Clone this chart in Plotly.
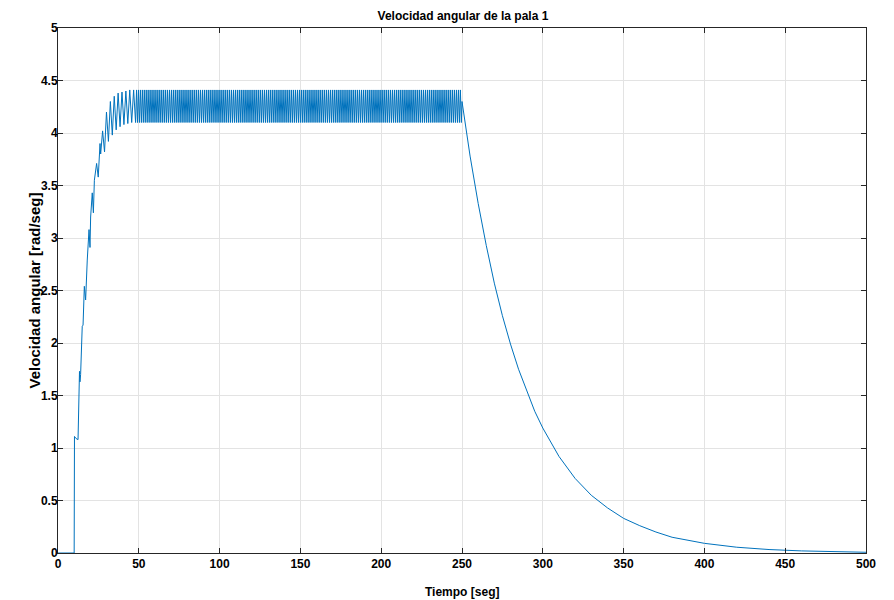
import plotly.graph_objects as go

# ---- data ----
# start-up ramp (seconds, rad/seg)
ramp_t = [0, 10.0, 10.2, 10.6, 11.2, 12.4, 13.0, 13.3, 13.6, 14.0, 15.0, 15.5, 16.3, 17.1,
          18.1, 18.8, 19.2, 19.8, 20.2, 21.2, 21.9, 22.5, 23.9, 24.9, 26.0]
ramp_v = [0, 0, 1.11, 1.10, 1.09, 1.08, 1.65, 1.73, 1.63, 1.70, 2.16, 2.17, 2.54, 2.41,
          2.79, 3.00, 3.08, 2.91, 3.20, 3.43, 3.24, 3.55, 3.71, 3.58, 3.90]

# oscillation building up (turning points)
build_t = [26.4, 27.6, 28.8, 30.0, 31.2, 32.4, 33.6, 34.8, 36.0, 37.2,
           38.4, 39.6, 40.8, 42.0, 43.2, 44.4, 45.6, 46.8, 48.0]
build_v = [3.80, 4.02, 3.82, 4.20, 3.92, 4.30, 3.98, 4.35, 4.03, 4.38,
           4.06, 4.39, 4.08, 4.40, 4.09, 4.41, 4.10, 4.41, 4.10]

# steady oscillation (turning points)
steady_t = [
    48.6, 49.2, 49.8, 50.4, 51.0, 51.6, 52.2, 52.8, 53.4, 54.0,
    54.6, 55.2, 55.8, 56.4, 57.0, 57.6, 58.2, 58.8, 59.4, 60.0,
    60.6, 61.2, 61.8, 62.4, 63.0, 63.6, 64.2, 64.8, 65.4, 66.0,
    66.6, 67.2, 67.8, 68.4, 69.0, 69.6, 70.2, 70.8, 71.4, 72.0,
    72.6, 73.2, 73.8, 74.4, 75.0, 75.6, 76.2, 76.8, 77.4, 78.0,
    78.6, 79.2, 79.8, 80.4, 81.0, 81.6, 82.2, 82.8, 83.4, 84.0,
    84.6, 85.2, 85.8, 86.4, 87.0, 87.6, 88.2, 88.8, 89.4, 90.0,
    90.6, 91.2, 91.8, 92.4, 93.0, 93.6, 94.2, 94.8, 95.4, 96.0,
    96.6, 97.2, 97.8, 98.4, 99.0, 99.6, 100.2, 100.8, 101.4, 102.0,
    102.6, 103.2, 103.8, 104.4, 105.0, 105.6, 106.2, 106.8, 107.4, 108.0,
    108.6, 109.2, 109.8, 110.4, 111.0, 111.6, 112.2, 112.8, 113.4, 114.0,
    114.6, 115.2, 115.8, 116.4, 117.0, 117.6, 118.2, 118.8, 119.4, 120.0,
    120.6, 121.2, 121.8, 122.4, 123.0, 123.6, 124.2, 124.8, 125.4, 126.0,
    126.6, 127.2, 127.8, 128.4, 129.0, 129.6, 130.2, 130.8, 131.4, 132.0,
    132.6, 133.2, 133.8, 134.4, 135.0, 135.6, 136.2, 136.8, 137.4, 138.0,
    138.6, 139.2, 139.8, 140.4, 141.0, 141.6, 142.2, 142.8, 143.4, 144.0,
    144.6, 145.2, 145.8, 146.4, 147.0, 147.6, 148.2, 148.8, 149.4, 150.0,
    150.6, 151.2, 151.8, 152.4, 153.0, 153.6, 154.2, 154.8, 155.4, 156.0,
    156.6, 157.2, 157.8, 158.4, 159.0, 159.6, 160.2, 160.8, 161.4, 162.0,
    162.6, 163.2, 163.8, 164.4, 165.0, 165.6, 166.2, 166.8, 167.4, 168.0,
    168.6, 169.2, 169.8, 170.4, 171.0, 171.6, 172.2, 172.8, 173.4, 174.0,
    174.6, 175.2, 175.8, 176.4, 177.0, 177.6, 178.2, 178.8, 179.4, 180.0,
    180.6, 181.2, 181.8, 182.4, 183.0, 183.6, 184.2, 184.8, 185.4, 186.0,
    186.6, 187.2, 187.8, 188.4, 189.0, 189.6, 190.2, 190.8, 191.4, 192.0,
    192.6, 193.2, 193.8, 194.4, 195.0, 195.6, 196.2, 196.8, 197.4, 198.0,
    198.6, 199.2, 199.8, 200.4, 201.0, 201.6, 202.2, 202.8, 203.4, 204.0,
    204.6, 205.2, 205.8, 206.4, 207.0, 207.6, 208.2, 208.8, 209.4, 210.0,
    210.6, 211.2, 211.8, 212.4, 213.0, 213.6, 214.2, 214.8, 215.4, 216.0,
    216.6, 217.2, 217.8, 218.4, 219.0, 219.6, 220.2, 220.8, 221.4, 222.0,
    222.6, 223.2, 223.8, 224.4, 225.0, 225.6, 226.2, 226.8, 227.4, 228.0,
    228.6, 229.2, 229.8, 230.4, 231.0, 231.6, 232.2, 232.8, 233.4, 234.0,
    234.6, 235.2, 235.8, 236.4, 237.0, 237.6, 238.2, 238.8, 239.4, 240.0,
    240.6, 241.2, 241.8, 242.4, 243.0, 243.6, 244.2, 244.8, 245.4, 246.0,
    246.6, 247.2, 247.8, 248.4, 249.0, 249.6]
steady_v = [
    4.41, 4.10, 4.41, 4.10, 4.41, 4.10, 4.41, 4.10, 4.41, 4.10,
    4.41, 4.10, 4.41, 4.10, 4.41, 4.10, 4.41, 4.10, 4.41, 4.10,
    4.41, 4.10, 4.41, 4.10, 4.41, 4.10, 4.41, 4.10, 4.41, 4.10,
    4.41, 4.10, 4.41, 4.10, 4.41, 4.10, 4.41, 4.10, 4.41, 4.10,
    4.41, 4.10, 4.41, 4.10, 4.41, 4.10, 4.41, 4.10, 4.41, 4.10,
    4.41, 4.10, 4.41, 4.10, 4.41, 4.10, 4.41, 4.10, 4.41, 4.10,
    4.41, 4.10, 4.41, 4.10, 4.41, 4.10, 4.41, 4.10, 4.41, 4.10,
    4.41, 4.10, 4.41, 4.10, 4.41, 4.10, 4.41, 4.10, 4.41, 4.10,
    4.41, 4.10, 4.41, 4.10, 4.41, 4.10, 4.41, 4.10, 4.41, 4.10,
    4.41, 4.10, 4.41, 4.10, 4.41, 4.10, 4.41, 4.10, 4.41, 4.10,
    4.41, 4.10, 4.41, 4.10, 4.41, 4.10, 4.41, 4.10, 4.41, 4.10,
    4.41, 4.10, 4.41, 4.10, 4.41, 4.10, 4.41, 4.10, 4.41, 4.10,
    4.41, 4.10, 4.41, 4.10, 4.41, 4.10, 4.41, 4.10, 4.41, 4.10,
    4.41, 4.10, 4.41, 4.10, 4.41, 4.10, 4.41, 4.10, 4.41, 4.10,
    4.41, 4.10, 4.41, 4.10, 4.41, 4.10, 4.41, 4.10, 4.41, 4.10,
    4.41, 4.10, 4.41, 4.10, 4.41, 4.10, 4.41, 4.10, 4.41, 4.10,
    4.41, 4.10, 4.41, 4.10, 4.41, 4.10, 4.41, 4.10, 4.41, 4.10,
    4.41, 4.10, 4.41, 4.10, 4.41, 4.10, 4.41, 4.10, 4.41, 4.10,
    4.41, 4.10, 4.41, 4.10, 4.41, 4.10, 4.41, 4.10, 4.41, 4.10,
    4.41, 4.10, 4.41, 4.10, 4.41, 4.10, 4.41, 4.10, 4.41, 4.10,
    4.41, 4.10, 4.41, 4.10, 4.41, 4.10, 4.41, 4.10, 4.41, 4.10,
    4.41, 4.10, 4.41, 4.10, 4.41, 4.10, 4.41, 4.10, 4.41, 4.10,
    4.41, 4.10, 4.41, 4.10, 4.41, 4.10, 4.41, 4.10, 4.41, 4.10,
    4.41, 4.10, 4.41, 4.10, 4.41, 4.10, 4.41, 4.10, 4.41, 4.10,
    4.41, 4.10, 4.41, 4.10, 4.41, 4.10, 4.41, 4.10, 4.41, 4.10,
    4.41, 4.10, 4.41, 4.10, 4.41, 4.10, 4.41, 4.10, 4.41, 4.10,
    4.41, 4.10, 4.41, 4.10, 4.41, 4.10, 4.41, 4.10, 4.41, 4.10,
    4.41, 4.10, 4.41, 4.10, 4.41, 4.10, 4.41, 4.10, 4.41, 4.10,
    4.41, 4.10, 4.41, 4.10, 4.41, 4.10, 4.41, 4.10, 4.41, 4.10,
    4.41, 4.10, 4.41, 4.10, 4.41, 4.10, 4.41, 4.10, 4.41, 4.10,
    4.41, 4.10, 4.41, 4.10, 4.41, 4.10, 4.41, 4.10, 4.41, 4.10,
    4.41, 4.10, 4.41, 4.10, 4.41, 4.10, 4.41, 4.10, 4.41, 4.10,
    4.41, 4.10, 4.41, 4.10, 4.41, 4.10, 4.41, 4.10, 4.41, 4.10,
    4.41, 4.10, 4.41, 4.10, 4.41, 4.10]

# free decay after the drive stops
decay_t = [250, 255, 260, 265, 270, 275, 280, 285, 290, 295, 300, 310, 320, 330, 340,
           350, 360, 370, 380, 390, 400, 420, 440, 460, 480, 500]
decay_v = [4.30, 3.78, 3.33, 2.93, 2.57, 2.26, 1.99, 1.75, 1.54, 1.35, 1.19, 0.92, 0.71,
           0.55, 0.43, 0.33, 0.26, 0.20, 0.15, 0.12, 0.092, 0.055, 0.033, 0.020, 0.012, 0.007]

x_ticks = [0, 50, 100, 150, 200, 250, 300, 350, 400, 450, 500]
y_ticks = [0, 0.5, 1, 1.5, 2, 2.5, 3, 3.5, 4, 4.5, 5]

t_all = ramp_t + build_t + steady_t + decay_t
v_all = ramp_v + build_v + steady_v + decay_v

FONT = "Liberation Sans Narrow, Liberation Sans, Arial, sans-serif"

fig = go.Figure()
fig.add_trace(go.Scatter(x=t_all, y=v_all, mode="lines",
                         line=dict(color="#0072BD", width=1), showlegend=False))

axis_common = dict(
    showgrid=True, gridcolor="#e3e3e3", gridwidth=1,
    showline=True, linecolor="#262626", linewidth=1, mirror="ticks",
    ticks="inside", ticklen=5, tickcolor="#262626", zeroline=False,
    automargin=False,
    tickfont=dict(family=FONT, size=12, color="#000000", weight="bold"),
)

fig.update_xaxes(range=[0, 500], tickvals=x_ticks, ticktext=[str(v) for v in x_ticks],
                 **axis_common)
fig.update_yaxes(range=[0, 5], tickvals=y_ticks, ticktext=[f"{v:g}" for v in y_ticks],
                 ticklabelstandoff=-3, **axis_common)

fig.update_layout(
    width=886, height=592,
    margin=dict(l=50, r=28, t=20, b=47),
    paper_bgcolor="white", plot_bgcolor="white",
    title=dict(text="Velocidad angular de la pala 1", x=0.5135, xanchor="center",
               y=0.9865, yanchor="middle",
               font=dict(family=FONT, size=12, color="#000000", weight="bold")),
    annotations=[
        dict(text="Velocidad angular [rad/seg]", xref="paper", yref="paper",
             x=-0.0285, y=0.5, xanchor="center", yanchor="middle", textangle=-90,
             showarrow=False,
             font=dict(family=FONT, size=15, color="#000000", weight="bold")),
        dict(text="Tiempo [seg]", xref="paper", yref="paper",
             x=0.5, y=-0.0743, xanchor="center", yanchor="middle",
             showarrow=False,
             font=dict(family=FONT, size=12, color="#000000", weight="bold")),
    ],
)

fig.write_html("out.html")
